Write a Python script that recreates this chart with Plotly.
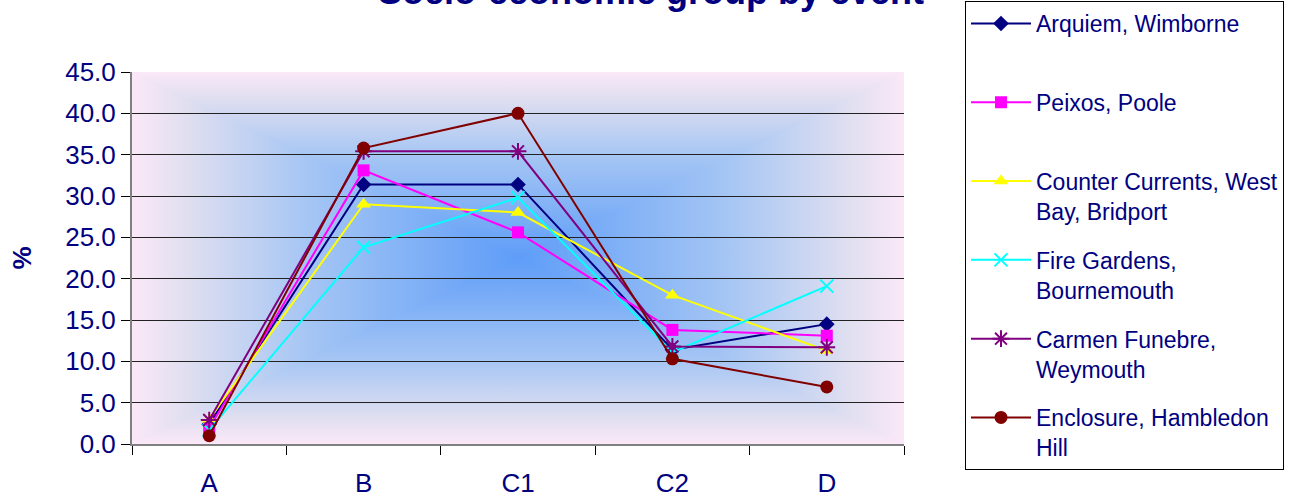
import base64
import plotly.graph_objects as go

categories = ["A", "B", "C1", "C2", "D"]
series_names = [
    "Arquiem, Wimborne<br> ",
    "Peixos, Poole<br> ",
    "Counter Currents, West<br>Bay, Bridport",
    "Fire Gardens,<br>Bournemouth",
    "Carmen Funebre,<br>Weymouth",
    "Enclosure, Hambledon<br>Hill",
]
arquiem = [2.4, 31.4, 31.4, 11.4, 14.5]
peixos = [1.9, 33.1, 25.6, 13.8, 13.1]
counter_currents = [3.0, 29.0, 28.0, 18.0, 11.3]
fire_gardens = [1.7, 23.8, 29.8, 11.1, 19.1]
carmen_funebre = [2.9, 35.4, 35.4, 11.8, 11.7]
enclosure = [1.0, 35.8, 40.0, 10.3, 6.9]
y_ticks = [0, 5, 10, 15, 20, 25, 30, 35, 40, 45]

series_values = [arquiem, peixos, counter_currents, fire_gardens, carmen_funebre, enclosure]
colors = ["#000080", "#FF00FF", "#FFFF00", "#00FFFF", "#800080", "#800000"]
symbols = ["diamond", "square", "triangle-up", "x-thin-open", "asterisk-open", "circle"]
sizes = [12, 12, 13, 13, 14, 13]

NAVY = "#000080"
FONT = "Arial, 'Liberation Sans', sans-serif"

# rectangular "from centre" gradient background for the plot area
W, H = 772, 372
cx, cy = W / 2, H / 2
stops = [(0.0, "#FBE8F8"), (0.14, "#E0DFF0"), (0.45, "#A6C6F4"), (1.0, "#5E9DF8")]
def grad(gid, x1, y1, x2, y2):
    s = "".join(f'<stop offset="{o}" stop-color="{c}"/>' for o, c in stops)
    return (f'<linearGradient id="{gid}" gradientUnits="userSpaceOnUse" '
            f'x1="{x1}" y1="{y1}" x2="{x2}" y2="{y2}">{s}</linearGradient>')
svg = (
    f'<svg xmlns="http://www.w3.org/2000/svg" width="{W}" height="{H}" '
    f'viewBox="0 0 {W} {H}" preserveAspectRatio="none" shape-rendering="crispEdges"><defs>'
    + grad("t", 0, 0, 0, cy) + grad("b", 0, H, 0, cy)
    + grad("l", 0, 0, cx, 0) + grad("r", W, 0, cx, 0)
    + '</defs>'
    f'<rect x="0" y="0" width="{W}" height="{H}" fill="#A6C6F4"/>'
    f'<polygon points="0,0 {W},0 {cx},{cy}" fill="url(#t)"/>'
    f'<polygon points="0,{H} {W},{H} {cx},{cy}" fill="url(#b)"/>'
    f'<polygon points="0,0 0,{H} {cx},{cy}" fill="url(#l)"/>'
    f'<polygon points="{W},0 {W},{H} {cx},{cy}" fill="url(#r)"/>'
    '</svg>'
)
bg_uri = "data:image/svg+xml;base64," + base64.b64encode(svg.encode()).decode()

fig = go.Figure()
for i, (name, vals) in enumerate(zip(series_names, series_values)):
    fig.add_trace(go.Scatter(
        x=categories, y=vals, name=name, mode="lines+markers",
        legendgroup=f"g{i}",
        line=dict(color=colors[i], width=2),
        marker=dict(symbol=symbols[i], size=sizes[i], color=colors[i],
                    line=dict(color=colors[i], width=2 if "open" in symbols[i] else 0)),
    ))

fig.update_layout(
    width=1290, height=497,
    margin=dict(l=132, r=386, t=72, b=53, autoexpand=False),
    paper_bgcolor="white",
    plot_bgcolor="rgba(0,0,0,0)",
    font=dict(family=FONT, color=NAVY),
    title=dict(text="<b>Socio-economic group by event</b>",
               font=dict(size=36, color=NAVY, family=FONT),
               x=651 / 1290, xanchor="center", xref="container",
               y=1 - 4 / 497, yanchor="bottom", yref="container"),
    images=[dict(source=bg_uri, xref="paper", yref="paper", x=0, y=1,
                 sizex=1, sizey=1, sizing="stretch", layer="below",
                 xanchor="left", yanchor="top")],
    legend=dict(
        xref="container", yref="container",
        x=965 / 1290, xanchor="left", y=1 - 1 / 497, yanchor="top",
        bordercolor="#000000", borderwidth=1, bgcolor="white",
        font=dict(size=23, color=NAVY, family=FONT),
        valign="top", tracegroupgap=16, itemwidth=60, maxheight=496,
    ),
    showlegend=True,
)
fig.update_xaxes(
    type="category", range=[-0.5, 4.5], tickson="boundaries", automargin=False,
    ticks="outside", ticklen=9, tickcolor="#000000", tickwidth=1,
    showline=True, linecolor="#808080", linewidth=2,
    showgrid=False, tickfont=dict(size=26, color=NAVY), ticklabelstandoff=15,
)
fig.update_yaxes(
    range=[0, 45], tickvals=y_ticks, tickformat=".1f", automargin=False,
    ticks="outside", ticklen=9, tickcolor="#000000",
    showline=True, linecolor="#808080", linewidth=2,
    showgrid=True, gridcolor="#222222", gridwidth=1,
    zeroline=False, tickfont=dict(size=26, color=NAVY),
    title=dict(text="<b>%</b>", font=dict(size=26, color=NAVY), standoff=26),
)

fig.write_html("out.html", config={"displayModeBar": False},
               post_script="document.body.style.margin='0';")
